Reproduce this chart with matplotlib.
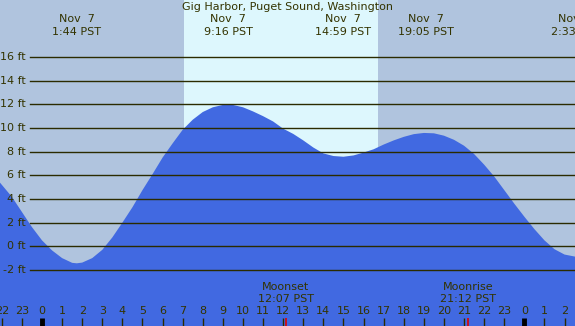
import matplotlib.pyplot as plt

# tide height (ft), hours relative to midnight Nov 7
hours = [-2.1, -1.5, -1.0, -0.5, 0.0, 0.5, 1.0, 1.5, 1.73, 2.0, 2.5, 3.0, 3.5,
         4.0, 4.5, 5.0, 5.5, 6.0, 6.5, 7.0, 7.5, 8.0, 8.5, 9.0, 9.25, 9.5,
         10.0, 10.5, 11.0, 11.5, 12.0, 12.5, 13.0, 13.5, 14.0, 14.5, 15.0,
         15.5, 16.0, 16.5, 17.0, 17.5, 18.0, 18.5, 19.0, 19.5, 20.0, 20.5,
         21.0, 21.5, 22.0, 22.5, 23.0, 23.5, 24.0, 24.5, 25.0, 25.5, 26.0, 26.6]
tide_ft = [5.4, 4.18, 2.9, 1.62, 0.5, -0.35, -1.0, -1.4, -1.44, -1.38, -1.0, -0.3, 0.75,
           2.0, 3.3, 4.75, 6.1, 7.5, 8.7, 9.85, 10.7, 11.35, 11.75, 11.95, 11.97, 11.95,
           11.75, 11.4, 11.0, 10.55, 9.94, 9.5, 8.95, 8.35, 7.85, 7.63, 7.57,
           7.68, 7.92, 8.2, 8.6, 8.95, 9.25, 9.48, 9.58, 9.55, 9.35, 9.0,
           8.5, 7.8, 6.9, 5.9, 4.75, 3.6, 2.5, 1.45, 0.5, -0.25, -0.7, -0.9]

extreme_times = [1 + 44/60, 9 + 16/60, 14 + 59/60, 19 + 5/60, 26 + 33/60]
extreme_labels = ["1:44 PST", "9:16 PST", "14:59 PST", "19:05 PST", "2:33 PST"]
sunrise, sunset = 7.06, 16.72
moon_times = [12 + 7/60, 21 + 12/60]
moon_names = ["Moonset", "Moonrise"]
moon_labels = ["12:07 PST", "21:12 PST"]
ft_levels = list(range(-2, 17, 2))
hour_ticks = list(range(-2, 27))
hour_labels = [str(h % 24) for h in hour_ticks]

W, H = 575, 326
txt = '#333300'
fig = plt.figure(figsize=(W / 100, H / 100), dpi=100, facecolor='#b0c4de')
ax = fig.add_axes([0, 0, 1, 1])
ax.axis('off')
ax.set_xlim(-2.09, 26.52)
ax.set_ylim(-6.74, 20.82)

def yfrac(ypix):
    return 1 - ypix / H

xt = ax.get_xaxis_transform()
yt = ax.get_yaxis_transform()

# daylight
ax.axvspan(sunrise, sunset, color='#ddf7fd', lw=0, zorder=0)

# tide
ax.fill_between(hours, tide_ft, -10, color='#4169e1', lw=0, zorder=1)

# grid lines + labels
for lv in ft_levels:
    ax.axhline(lv, xmin=29.5 / W, xmax=1, color='#2b2b00', lw=1.0, zorder=2)
    ax.text(26 / W, lv, f"{lv} ft", transform=yt, ha='right', va='center',
            fontsize=8, color=txt, zorder=3)

ax.text(0.5 * (176.7 + 397.7) / W, yfrac(7), "Gig Harbor, Puget Sound, Washington",
        transform=ax.transAxes, ha='center', va='center', fontsize=8, color=txt)

for t, lab in zip(extreme_times, extreme_labels):
    ax.text(t, yfrac(19), "Nov  7", transform=xt, ha='center', va='center',
            fontsize=8, color=txt)
    ax.text(t, yfrac(32), lab, transform=xt, ha='center', va='center',
            fontsize=8, color=txt)

for t, nm, lab in zip(moon_times, moon_names, moon_labels):
    ax.text(t, yfrac(287.5), nm, transform=xt, ha='center', va='center',
            fontsize=8, color=txt)
    ax.text(t, yfrac(299), lab, transform=xt, ha='center', va='center',
            fontsize=8, color=txt)
    ax.vlines(t, 0, yfrac(318), transform=xt, color='#e00000', lw=1.2, zorder=4)

# hour ticks
for h, lab in zip(hour_ticks, hour_labels):
    lw = 3.5 if h % 24 == 0 else 1.0
    col = 'black' if h % 24 == 0 else '#2b2b00'
    ax.vlines(h, 0, yfrac(318), transform=xt, color=col, lw=lw, zorder=3)
    ax.text(h, yfrac(311.5), lab, transform=xt, ha='center', va='center',
            fontsize=8, color=txt)

plt.savefig('out.png', dpi=100)
